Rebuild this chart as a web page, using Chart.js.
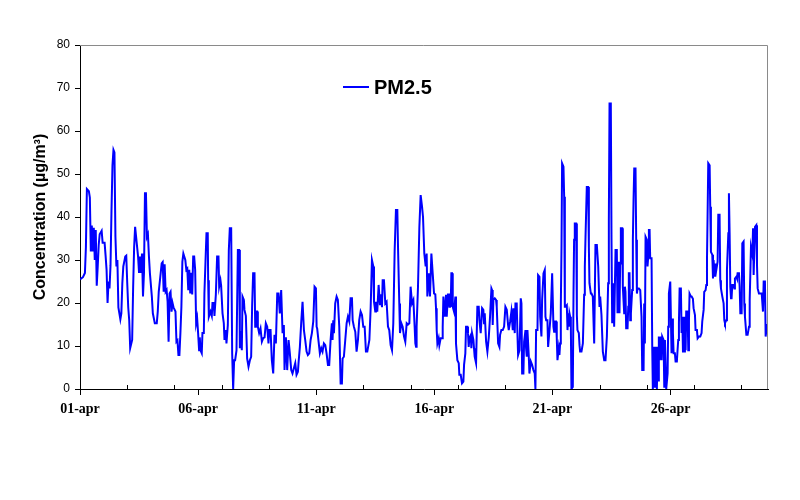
<!DOCTYPE html>
<html lang="en">

<head>
    <meta charset="UTF-8">
    <title>PM2.5</title>
    <script src="https://cdn.jsdelivr.net/npm/chart.js"></script>
    <style>
        body { margin: 0; background: #fff; }
    </style>
</head>

<body>
    <canvas id="myChart" width="800" height="500"></canvas>

    <script>
        // time in hours from 01-apr 00:00
        const hours = [
            0, 3, 5, 6, 7, 9, 10, 11, 12, 13, 14, 15, 16, 17, 18, 19, 20, 22, 23, 25, 26, 27, 28, 29, 30, 31, 32, 33, 34, 35, 36, 37, 38, 39, 40, 41, 42, 43, 44, 46, 47,
            48, 49, 50, 51, 53, 54, 55, 56, 57, 59, 60, 61, 62, 63, 64, 65, 66, 67, 68, 69, 70, 71, 73, 74, 76, 78, 79, 80, 82, 83, 84, 85, 86, 87, 88, 89, 90, 91, 92, 93, 94, 95,
            97, 98, 99, 100, 101, 102, 103, 104, 105, 107, 108, 109, 110, 111, 112, 113, 114, 115, 116, 117, 118, 119, 120, 121,
            121.7, 122.4, 123.7, 124.4, 125.8, 126.4, 127.5, 128.5, 129.8, 130.2, 130.9, 132.6, 133.9, 134.6, 135.9, 136.6, 138, 139.3, 140.7, 141.4, 142.7, 143.4,
            144.8, 146.1, 146.8, 148.1, 148.8, 150.2, 151.2, 152.2, 153.6, 154.6, 155.6, 156.6, 157.6, 159, 160.4, 161.7, 162.4, 163.4, 164.4, 165.1, 166.5, 167.1,
            168.5, 169.8, 171.2, 172.6, 173.9, 174.9, 175.9, 177.3, 178, 178.7, 180, 180.7, 182, 183.4, 184.8, 186.1, 187.5, 188.8, 190.2, 191.5, 192.2, 193.6,
            194.9, 196.3, 197.6, 199, 200.4, 201.7, 203, 204.4, 205.8, 207.1, 207.8, 209.2, 210.5, 211.9, 213.2, 214.6, 215.9, 217.3, 218.7, 220, 221.4, 222,
            223.4, 224.8, 226.1, 227.5, 228.8, 230.2, 231.5, 232.9, 234.3, 235.6, 237, 238.3, 239.7, 240.4, 241,
            242.4, 243.7, 245.1, 246.4, 247.8, 249.2, 250.5, 251.9, 253.2, 254.6, 255.9, 256.6, 257.3, 258, 259.3, 260.7, 262, 263.4, 264.8, 266.1, 266.8, 268.1,
            269.5, 270.9, 272.2, 273.6, 274.9, 276.3, 277, 278.3, 279.7, 281, 282.4, 283.7, 285.1, 286.5, 287.8, 289.2, 290.5, 291.9, 294, 295.3, 296.6, 298,
            298.7, 300, 300.7, 302, 303.4, 304.8, 306.1, 306.8, 307.5, 308.8, 310.2, 311.5, 312.9, 314.2, 315.6, 317, 318.3, 319.7, 321, 322.4, 323.1, 324.4,
            325.1, 326.5, 327.8, 329.2, 330.5, 331.9, 333.2, 334.6, 335.9, 337.3, 338.7, 340, 340.7, 341.4, 342, 343.4, 344.8, 346.1, 347.5, 348.5, 349.8, 351.2,
            352.2, 352.9, 354.3, 355.6, 357, 358.3, 359.7, 361,
            361.7, 362.4, 363.1, 364.4, 365.1, 366.4, 367.8, 368.5, 369.2, 369.8, 370.5, 371.9, 372.6, 373.9, 374.6, 375.3, 375.9, 376.6, 377.3, 378, 378.7, 380,
            381.4, 382, 383.4, 384.8, 385.4, 386.8, 388.1, 389.5, 390.2, 391.5, 392.2, 393.6, 394.2, 394.9, 395.6, 397, 397.6, 398.3, 399.7, 400.3, 401, 402.4,
            403.7, 405.1, 405.8, 407.1, 407.8, 408.5, 409.8, 410.5, 411.2, 412.6, 413.9, 415.3, 416.6, 418, 418.7, 419.3, 420, 421.4, 422.7, 423.4, 424.8, 426.1,
            426.8, 428.1, 429.5, 430.9, 432.2, 433.6, 434.9, 435.6, 437, 438.3, 439.7, 440.3, 441.7, 442.4, 443.7, 444.4, 445.1, 446.5, 447.8, 448.5, 449.2, 450.5,
            451.2, 452.6, 453.2, 453.9, 454.6, 455.9, 456.6, 458, 459.3, 460.7, 462, 462.7, 463.4, 464.8, 465.4, 466.8, 467.5, 468.8, 469.5, 470.9, 472.2, 472.9,
            473.6, 474.9, 475.6, 477, 478.3, 479.7, 481,
            481.7, 482.4, 483.7, 484.4, 485.1, 486.4, 487.1, 487.8, 488.5, 489.2, 489.8, 491.2, 491.9, 492.6, 493.2, 494.6, 495.3, 495.9, 496.6, 497.3, 498, 498.7,
            499.3, 500.7, 501.4, 502, 502.7, 504.1, 504.8, 505.4, 506.8, 507.5, 508.1, 509.5, 510.9, 512.2, 512.9, 513.6, 514.9, 516.3, 517, 517.6, 519, 519.7,
            521, 522.4, 523.7, 525.1, 526.5, 527.8, 528.5, 529.8, 531.2, 532.6, 533.9, 535.3, 536.6, 537.3, 538, 539.3, 540, 540.7, 542, 542.7, 544.1, 545.4,
            546.1, 547.5, 548.1, 548.8, 549.5, 550.9, 551.5, 552.9, 553.6, 554.2, 554.9, 556.3, 557, 557.6, 558.3, 559, 559.7, 561, 561.7, 562.4, 563.1, 564.4,
            565.1, 565.8, 566.5, 567.8, 569.2, 569.8, 570.5, 571.2, 572.6, 573.2, 573.9, 574.6, 575.9, 576.6, 577.3, 578, 578.7, 579.3, 580.7, 581.4, 582, 582.7,
            583.4, 584.1, 584.8, 585.4, 586.1, 586.8, 587.5, 588.1, 588.8, 589.5, 590.2, 590.9, 591.5, 592.9, 593.6, 594.3, 595.6, 596.3, 597, 597.6, 598.3, 599.7,
            600.4,
            601, 601.7, 602.4, 603.1, 604.4, 605.1, 606.4, 607.1, 607.8, 608.5, 609.2, 610.5, 611.2, 611.9, 612.6, 613.9, 614.6, 615.3, 615.9, 617.3, 618, 618.7,
            619.3, 620.7, 621.4, 622.7, 623.4, 624.8, 625.4, 626.8, 627.5, 628.8, 630.2, 631.5, 632.2, 633.6, 634.2, 635.6, 636.3, 637, 637.6, 638.3, 639.7, 640.3,
            641, 642.4, 643.1, 643.7, 644.4, 645.1, 645.8, 646.5, 647.1, 647.8, 648.5, 649.8, 650.5, 651.2, 652.6, 653.9, 654.6, 655.3, 656.6, 657.3, 658.7, 659.3,
            660, 660.7, 661.4, 662, 662.7, 664.1, 664.8, 665.4, 666.8, 667.5, 668.1, 669.5, 670.2, 670.9, 672.2, 672.9, 674.2, 674.9, 675.6, 677, 678.3, 679.7,
            680.4, 681.7, 683.1, 683.8, 684.4, 685.8, 687.1, 687.8, 688.5, 689.8, 691.2, 692.6, 693.9, 694.6, 695.9, 696.6, 698, 698.7
        ];

        // PM2.5 concentration (µg/m3)
        const pm25 = [
            25.5, 26, 27, 33, 46.5, 46, 44.5, 32, 38, 32, 37.5, 30, 37, 24, 28.5, 33.5, 36, 36.8, 34, 34, 31, 27.7, 20, 25, 23.4, 28.8, 41.6, 52, 55.6, 55, 35.4, 28.5, 30, 19, 17.6, 16.2, 17.6, 24.6, 28.5, 30.8, 31,
            24.6, 19, 16, 9.5, 11.4, 23.8, 33, 37.7, 35.4, 30.8, 27, 30.8, 27, 31.5, 21.5, 27, 45.5, 45.5, 35.4, 36, 31, 27, 21.5, 17.6, 15.3, 15.3, 18, 22.6, 27, 29.2, 29.5, 22.6, 29, 22.6, 23, 20.3, 11, 22.2, 22.6, 18, 20, 19,
            18, 11, 11.3, 7.9, 7.9, 13, 19, 29.6, 31.5, 30, 27.7, 28, 23, 27.7, 22.2, 27, 22, 30.8, 30.8, 27.7, 15.3, 16.5, 13, 9,
            12, 9, 8.3, 13, 13, 22.2, 29.6, 36.2, 36.2, 25.3, 16.8, 18, 17, 20, 20, 17, 21.9, 30.8, 30.8, 23.8, 25.3, 24,
            17.6, 15.3, 11.4, 13.7, 10.6, 14.9, 32.3, 37.4, 37.4, 8.3, 0, 6.7, 6.7, 9, 32.3, 32.3, 9.5, 13.5, 9, 21.5, 20.7, 18.4,
            17, 7.1, 5.2, 6.7, 7.5, 19.5, 26.9, 26.9, 14.5, 18, 18, 14.5, 13, 14.1, 11, 11.8, 12, 15.3, 14.5, 10.6, 13.7, 13.7,
            6.7, 3.6, 12.6, 10.6, 22.2, 22.2, 17.6, 23, 13, 14.9, 4.4, 12, 4.4, 11.4, 8.3, 4.4, 3.6, 4.8, 6, 3.3, 4, 6,
            9.8, 15.7, 20.3, 13.7, 11.4, 8.7, 7.9, 8.3, 11.4, 13, 15.7, 23.8, 23.4, 14.5, 14,
            11, 8.3, 9.5, 8.7, 10.6, 10.2, 8.3, 5.6, 5.6, 11.4, 15.3, 11.4, 16, 13, 19.9, 21.5, 20.7, 14.5, 1.3, 1.3, 7.1, 7.5,
            11.4, 15.3, 16.8, 15.7, 21.1, 21.1, 16, 14.5, 13.3, 8.7, 11.4, 16, 18, 17.2, 14.5, 14.5, 8.7, 8.7, 11.4, 18.8, 30, 28.5,
            20.3, 18, 20.3, 18, 24.2, 19.5, 22, 19, 25.3, 25.3, 19.9, 20.3, 14.5, 13.7, 10.2, 9, 15.3, 32.3, 41.6, 41.6, 33, 19.9,
            13, 15.3, 14.5, 12.2, 11, 15.3, 15, 15.3, 23.8, 19.9, 20.7, 14.5, 10.6, 9.8, 14.5, 23.8, 37.7, 45.1, 42.4, 40, 31.5, 28.5,
            31.5, 21.5, 26.9, 21.5, 31.5, 27, 22.2, 22,
            18.8, 13.7, 10.6, 11.8, 10.2, 11.8, 11.8, 14.5, 21.5, 21.5, 16.8, 21.9, 16.8, 22.2, 20.7, 19.1, 22.2, 19.1, 26.9, 26.9, 19.1, 18,
            21.5, 10.6, 6.7, 6, 3.3, 3.3, 1.3, 1.7, 5.6, 8.3, 14.5, 14.5, 13, 9.8, 11.8, 12.5, 9.5, 13, 11.4, 9.5, 7.5, 6,
            19.1, 19.1, 16, 13, 15.7, 18.8, 18.4, 15.3, 17.6, 11, 8.7, 12, 16.8, 23.4, 23, 14.9, 20.7, 21.1, 20.7, 19.1, 10.6, 9.8,
            12.6, 13.7, 13.7, 14.5, 19.1, 18.4, 14.9, 13.7, 15.7, 18, 13.7, 18.8, 13, 19.9, 19.9, 13, 7.9, 9, 21.1, 19.9, 3.6, 3.6,
            11, 13.7, 9.5, 7.5, 13.7, 7.9, 3.6, 6.4, 5.6, 4.4, 3.6, 0, 13.7, 13.7, 26.5, 26.1, 16.8, 12.2, 20.7, 26.9, 27.7, 16.8,
            16, 16, 9.8, 13.7, 17.6, 26.9, 14.5,
            13.3, 15.7, 15.7, 11.8, 6.7, 9.5, 7.9, 10.6, 19.1, 33, 52.5, 51.7, 44.7, 19.1, 19.1, 19.5, 13.7, 17.6, 14.5, 17.6, 16.8, 14.5,
            0, 0.5, 22.2, 34.7, 38.5, 38.5, 17.2, 13.7, 13, 10.2, 8.7, 8.7, 10.6, 21.9, 28.5, 35.4, 47, 47, 33, 24.6, 22.2, 22.2,
            21.5, 10.6, 33.5, 33.5, 28.5, 19.1, 21.5, 17.2, 8.7, 6.7, 6.7, 12.2, 24.6, 39.3, 66.4, 66.4, 34.7, 15.3, 24.6, 14.5, 32.3, 32.3,
            17.6, 29.6, 17.6, 29.2, 37.4, 37.4, 23.8, 17.6, 23.8, 22.6, 14.1, 14.1, 19.1, 26.9, 26.9, 16, 17.6, 23, 34.7, 44, 51.3, 51.3,
            34.7, 22.2, 23.4, 23.4, 23, 23, 16.8, 4.4, 4.4, 19.9, 10.6, 35.4, 34.7, 28.5, 30.8, 37, 37, 30.4, 30.4, 9.5, 0, 9.8,
            0.5, 9.8, 6.7, 9.8, 0, 9.8, 2, 12.2, 6.7, 11.8, 12.2, 6.7, 12.2, 11.4, 0.5, 11.4, 0, 0, 3.6, 14.5, 22.2, 25,
            25,
            8.3, 16.4, 13, 8.3, 8.3, 6.4, 6.4, 9, 11.4, 15.3, 23.4, 23.4, 13, 16.8, 8.7, 8.7, 16.8, 9, 18, 18, 9, 16,
            22.2, 21.5, 21.5, 21, 18.8, 17.2, 13.7, 13.7, 11.8, 12.2, 12.2, 13, 15.7, 18.4, 22.6, 23, 24.2, 30, 40, 52.5, 52, 42.4,
            31.9, 31.2, 25.7, 30, 27.7, 26.1, 29.2, 27.7, 27.7, 29.6, 40.5, 40.5, 25.3, 23.4, 21.5, 19.9, 16, 15.3, 16, 27.7, 36.2, 45.5,
            36.2, 23.8, 21.1, 21.1, 24.2, 24.2, 23.4, 25.7, 26.1, 25.7, 26.9, 26.9, 23.8, 17.6, 17.6, 33.9, 34.3, 19.9, 16.8, 12.6, 12.6, 14.5,
            20.7, 33, 31.2, 37.4, 26.5, 37.7, 38.1, 29, 23.4, 22.2, 22.2, 22.2, 18, 25, 25, 12.2, 14.9, 15
        ];

        const xTickLabels = ['01-apr', '06-apr', '11-apr', '16-apr', '21-apr', '26-apr'];
        const labelEvery = 120;  // hours between labels
        const minorEvery = 48;   // hours between small tick marks
        const yTicks = [0, 10, 20, 30, 40, 50, 60, 70, 80];

        const points = hours.map((h, i) => ({ x: h, y: pm25[i] }));

        // gray frame, small inside ticks and the legend inside the plot
        const extras = {
            id: 'extras',
            afterDraw(chart) {
                const ctx = chart.ctx;
                const a = chart.chartArea;
                const xs = chart.scales.x;
                ctx.save();
                ctx.strokeStyle = '#8a8a8a';
                ctx.lineWidth = 1;
                ctx.beginPath();
                ctx.moveTo(a.left, a.top + 0.5);
                ctx.lineTo(a.right - 0.5, a.top + 0.5);
                ctx.lineTo(a.right - 0.5, a.bottom);
                ctx.stroke();

                ctx.strokeStyle = '#000';
                ctx.beginPath();
                for (let h = minorEvery; h < xs.max; h += minorEvery) {
                    if (h % labelEvery === 0) continue;
                    const px = Math.round(xs.getPixelForValue(h)) + 0.5;
                    ctx.moveTo(px, a.bottom);
                    ctx.lineTo(px, a.bottom - 4);
                }
                ctx.stroke();

                const ds = chart.data.datasets[0];
                const lx = a.left + 263, ly = a.top + 42;
                ctx.strokeStyle = ds.borderColor;
                ctx.lineWidth = 2;
                ctx.beginPath();
                ctx.moveTo(lx, ly);
                ctx.lineTo(lx + 26, ly);
                ctx.stroke();
                ctx.fillStyle = '#000';
                ctx.font = 'bold 20px "Liberation Sans", Arial, sans-serif';
                ctx.textBaseline = 'middle';
                ctx.fillText(ds.label, lx + 31, ly + 1);
                ctx.restore();
            }
        };

        const config = {
            type: 'line',
            data: {
                datasets: [{
                    label: 'PM2.5',
                    data: points,
                    borderColor: '#0000ff',
                    borderWidth: 2,
                    pointRadius: 0,
                    tension: 0,
                    fill: false
                }]
            },
            options: {
                responsive: false,
                animation: false,
                layout: {
                    padding: { left: 0, right: 32, top: 45, bottom: 71 }
                },
                plugins: {
                    legend: { display: false },
                    tooltip: { enabled: false }
                },
                scales: {
                    x: {
                        type: 'linear',
                        min: 0,
                        max: 699,
                        afterBuildTicks: s => { s.ticks = xTickLabels.map((t, i) => ({ value: i * labelEvery })); },
                        afterFit: s => { s.height = 40; },
                        grid: { drawOnChartArea: false, tickLength: 6, color: '#000' },
                        border: { color: '#000' },
                        ticks: {
                            color: '#000',
                            maxRotation: 0,
                            autoSkip: false,
                            padding: 6,
                            font: { family: '"Liberation Serif", "Times New Roman", serif', size: 14, weight: 'bold' },
                            callback: (v, i) => xTickLabels[i]
                        }
                    },
                    y: {
                        min: 0,
                        max: 80,
                        afterBuildTicks: s => { s.ticks = yTicks.map(v => ({ value: v })); },
                        afterFit: s => { s.width = 80; },
                        grid: { drawOnChartArea: false, tickLength: 5, color: '#000' },
                        border: { color: '#000' },
                        ticks: {
                            color: '#000',
                            padding: 5,
                            font: { family: '"Liberation Sans", Arial, sans-serif', size: 12 }
                        },
                        title: {
                            display: true,
                            text: 'Concentration (µg/m³)',
                            color: '#000',
                            padding: { top: 31, bottom: 0 },
                            font: { family: '"Liberation Sans", Arial, sans-serif', size: 16, weight: 'bold' }
                        }
                    }
                }
            },
            plugins: [extras]
        };

        new Chart(document.getElementById('myChart'), config);
    </script>
</body>

</html>
